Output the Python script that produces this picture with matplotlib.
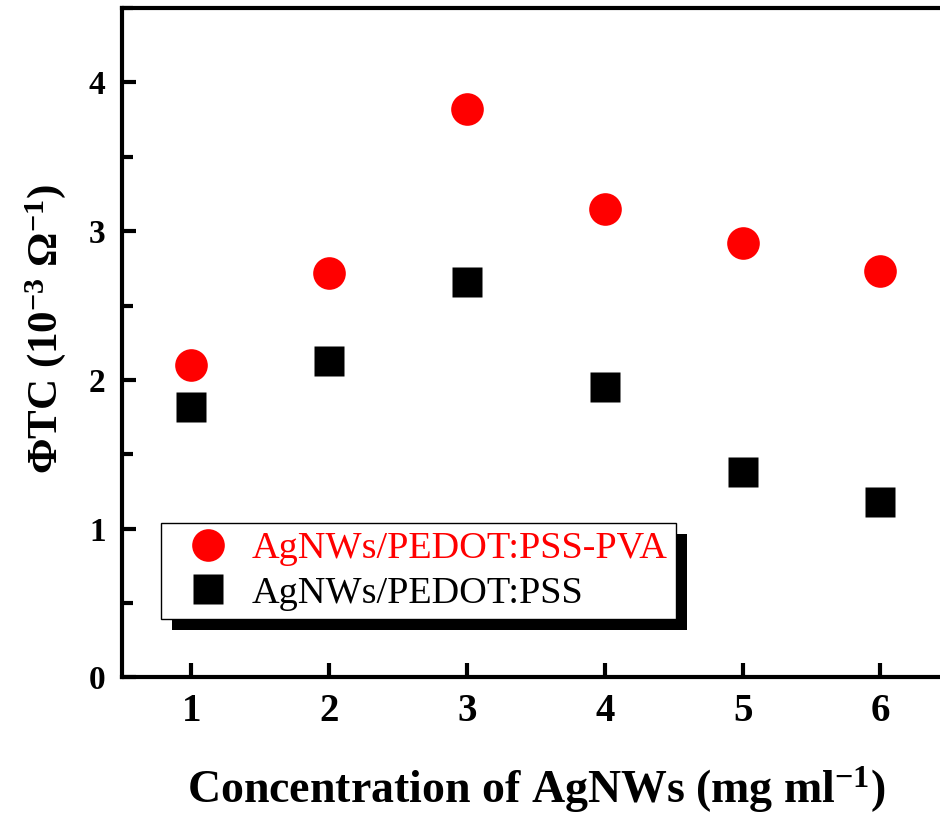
import matplotlib
matplotlib.use("Agg")
import matplotlib.pyplot as plt
import matplotlib.patheffects as pe
from matplotlib.ticker import MultipleLocator

# concentration of AgNWs (mg/ml)
conc = [1, 2, 3, 4, 5, 6]
# figure of merit, 10^-3 ohm^-1
phi_pva = [2.10, 2.72, 3.82, 3.15, 2.92, 2.73]
phi_pss = [1.82, 2.13, 2.66, 1.95, 1.38, 1.18]
labels = ['AgNWs/PEDOT:PSS-PVA', 'AgNWs/PEDOT:PSS']

plt.rcParams['font.family'] = 'Liberation Serif'
plt.rcParams['mathtext.fontset'] = 'custom'
plt.rcParams['mathtext.rm'] = 'Liberation Serif:bold'
plt.rcParams['mathtext.default'] = 'rm'

fig = plt.figure(figsize=(9.4, 8.15), dpi=100)
ax = fig.add_axes([0.13, 0.169, 0.88, 0.821])

ax.plot(conc, phi_pva, 'o', color='#ff0000', ms=23.5, mec='none', label=labels[0])
ax.plot(conc, phi_pss, 's', color='black', ms=21, mec='none', label=labels[1])

ax.set_xlim(0.5, 6.5)
ax.set_ylim(0, 4.5)
ax.xaxis.set_major_locator(MultipleLocator(1))
ax.yaxis.set_major_locator(MultipleLocator(1))
ax.yaxis.set_minor_locator(MultipleLocator(0.5))

for s in ax.spines.values():
    s.set_linewidth(3)
ax.tick_params(which='major', direction='in', length=10, width=3)
ax.tick_params(axis='y', which='major', labelsize=24, pad=12)
ax.tick_params(axis='y', which='minor', direction='in', length=8, width=3)
ax.tick_params(axis='x', which='minor', length=0)
ax.tick_params(axis='x', which='major', labelsize=28, pad=11)
for t in ax.get_xticklabels() + ax.get_yticklabels():
    t.set_fontweight('bold')

ax.set_ylabel(r'ΦTC (10$^{-3}$ Ω$^{-1}$)', fontsize=31, fontweight='bold')
ax.yaxis.set_label_coords(-0.066, 0.52)
ax.set_xlabel(r'Concentration of AgNWs (mg ml$^{-1}$)', fontsize=33,
              fontweight='bold')
ax.xaxis.set_label_coords(0.5, -0.13)

leg = ax.legend(loc='lower left', bbox_to_anchor=(0.047, 0.087), borderaxespad=0,
                fancybox=False, edgecolor='black', framealpha=1, fontsize=27.5,
                handletextpad=0.15, borderpad=0.22, labelspacing=0.26,
                handlelength=2.0)
leg.get_frame().set_linewidth(1)
leg.get_frame().set_path_effects([
    pe.SimplePatchShadow(offset=(8, -8), shadow_rgbFace='black', alpha=1),
    pe.Normal()])
leg.get_texts()[0].set_color('#ff0000')

fig.savefig('out.png', dpi=100)
